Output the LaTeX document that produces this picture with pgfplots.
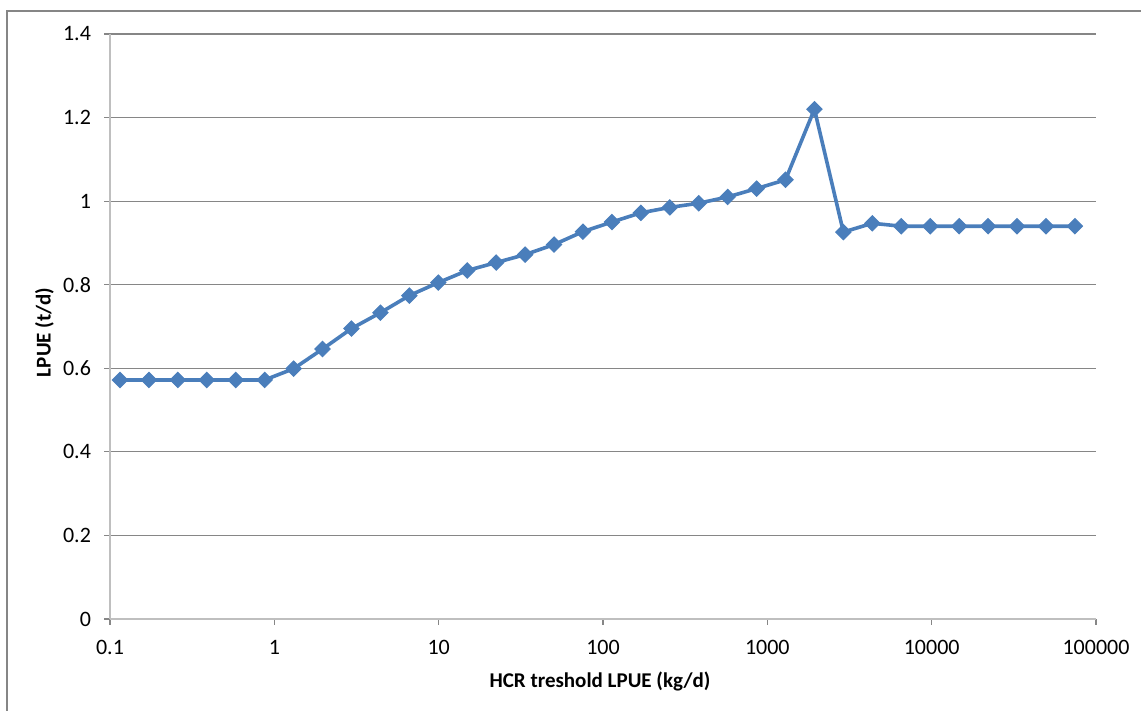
\documentclass[border=0pt]{standalone}
\usepackage{pgfplots}
\pgfplotsset{compat=1.18}
\usepackage{fontspec}
\setmainfont{Carlito}
\definecolor{series}{HTML}{4A7EBB}
\definecolor{gridc}{HTML}{868686}
\definecolor{axisc}{HTML}{BFBFBF}
\begin{document}
\begin{tikzpicture}
\path[use as bounding box] (0,0) rectangle (570.5pt,355.5pt);
\draw[color=gridc, line width=1pt] (3.5pt,0) -- (3.5pt,350pt) -- (570.5pt,350pt);
\begin{axis}[
  at={(55pt,46pt)}, anchor=south west, scale only axis,
  width=493pt, height=292.5pt,
  xmode=log, xmin=0.1, xmax=100000, ymin=0, ymax=1.4,
  xtick={0.1,1,10,100,1000,10000,100000},
  xticklabels={0.1,1,10,100,1000,10000,100000},
  ytick={0,0.2,0.4,0.6,0.8,1,1.2,1.4},
  yticklabels={0,0.2,0.4,0.6,0.8,1,1.2,1.4},
  xminorticks=false,
  axis x line*=bottom, axis y line*=left,
  ymajorgrids, grid style={color=gridc, line width=0.6pt},
  axis line style={color=axisc, line width=0.8pt},
  tick style={color=gridc, line width=0.6pt},
  tick align=outside, major tick length=3pt,
  ticklabel style={font=\fontsize{11}{12}\selectfont, text=black},
  yticklabel style={xshift=-3pt},
  xticklabel style={yshift=-4pt},
  label style={font=\fontsize{10.5}{12}\selectfont\bfseries},
  xlabel={HCR treshold LPUE (kg/d)},
  ylabel={LPUE (t/d)},
  xlabel style={at={(axis description cs:0.497,-0.106)}, anchor=center},
  ylabel style={at={(axis description cs:-0.0664,0.49)}, anchor=center},
  clip=false,
]
\addplot[color=series, line width=1.8pt, mark=square*, mark size=2.7pt,
  mark options={rotate=45, solid, fill=series, line width=0.5pt}] table {
x y
0.115 0.572
0.1725 0.572
0.2588 0.572
0.3881 0.572
0.5822 0.572
0.8733 0.572
1.310 0.599
1.965 0.646
2.947 0.695
4.421 0.733
6.631 0.774
9.947 0.805
14.92 0.834
22.38 0.853
33.57 0.872
50.35 0.896
75.53 0.927
113.3 0.950
169.9 0.972
254.9 0.985
382.3 0.995
573.5 1.010
860.2 1.030
1290 1.051
1935 1.220
2903 0.926
4355 0.947
6532 0.940
9798 0.940
14697 0.940
22046 0.940
33069 0.940
49603 0.940
74405 0.940
};
\end{axis}
\end{tikzpicture}
\end{document}
